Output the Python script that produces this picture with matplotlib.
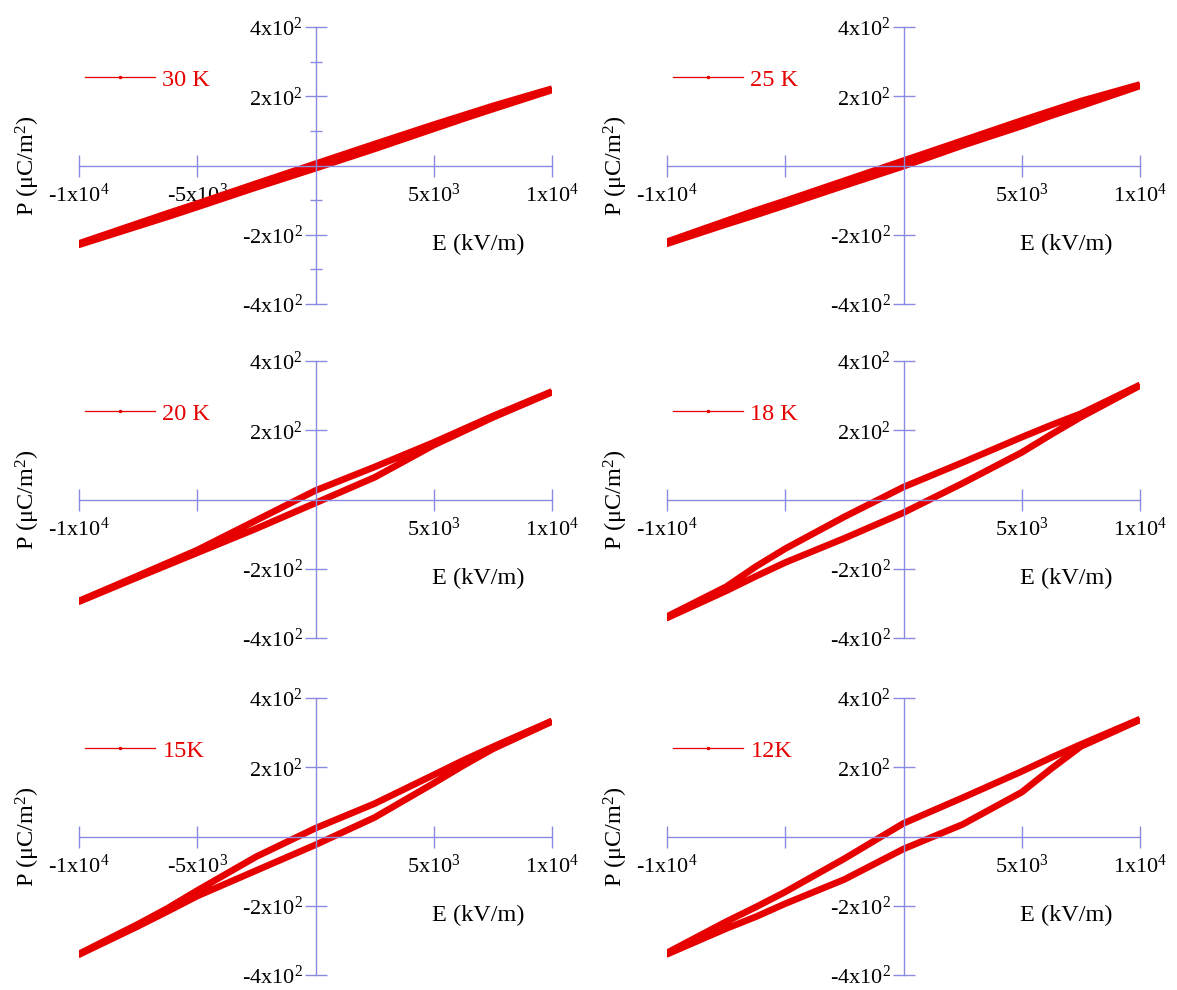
import matplotlib.pyplot as plt
from matplotlib.lines import Line2D

plt.rcParams['font.family'] = ['Liberation Serif', 'DejaVu Serif']
plt.rcParams['mathtext.fontset'] = 'custom'
plt.rcParams['mathtext.rm'] = 'Liberation Serif'
plt.rcParams['mathtext.it'] = 'Liberation Serif:italic'

# field points, kV/m
E = [-1e4, -7.5e3, -6.25e3, -5e3, -2.5e3, 0, 2.5e3, 5e3, 6.25e3, 7.5e3, 1e4]

temps = ['30 K', '25 K', '20 K', '18 K', '15K', '12K']

# upper branch (field going down) and lower branch (field going up), uC/m^2
P_up_30 = [-225, -167, -138, -110, -52, 5, 62, 118, 145, 172, 222]
P_dn_30 = [-229, -175, -148, -120, -63, -8, 48, 106, 135, 163, 218]
P_up_25 = [-220, -160, -130, -102, -44, 14, 72, 130, 158, 186, 234]
P_dn_25 = [-226, -170, -143, -115, -58, -2, 58, 114, 144, 172, 230]
P_up_20 = [-293, -220, -183, -146, -60, 26, 94, 165, 203, 241, 312]
P_dn_20 = [-295, -224, -189, -154, -84, -10, 64, 157, 197, 237, 310]
P_up_18 = [-338, -252, -194, -142, -50, 36, 107, 180, 215, 248, 331]
P_dn_18 = [-342, -264, -222, -182, -112, -38, 47, 136, 188, 238, 329]
P_up_15 = [-339, -253, -207, -156, -58, 24, 95, 178, 220, 259, 334]
P_dn_15 = [-341, -259, -216, -172, -98, -24, 55, 154, 205, 253, 332]
P_up_12 = [-336, -246, -204, -160, -64, 38, 112, 188, 228, 266, 339]
P_dn_12 = [-340, -266, -232, -194, -124, -36, 35, 128, 196, 260, 337]

ups = [P_up_30, P_up_25, P_up_20, P_up_18, P_up_15, P_up_12]
dns = [P_dn_30, P_dn_25, P_dn_20, P_dn_18, P_dn_15, P_dn_12]

x_ticks = [-1e4, -5e3, 5e3, 1e4]
x_labels_full = ['-1x10$^4$', '-5x10$^3$', '5x10$^3$', '1x10$^4$']
x_labels_short = ['-1x10$^4$', '', '5x10$^3$', '1x10$^4$']
y_ticks = [-400, -200, 200, 400]
y_labels = ['-4x10$^2$', '-2x10$^2$', '2x10$^2$', '4x10$^2$']

red = '#e60000'
axc = '#8a8ae0'

fig = plt.figure(figsize=(11.77, 9.9), dpi=100)
lefts = [79, 667]
tops = [27, 361, 698]
W, H = 1177, 990

for i in range(6):
    r, c = i // 2, i % 2
    ax = fig.add_axes([lefts[c] / W, 1 - (tops[r] + 277) / H, 473 / W, 277 / H])
    up, dn = ups[i], dns[i]
    ax.plot(E[::-1] + E, up[::-1] + dn, color=red, lw=4.8,
            solid_joinstyle='round', solid_capstyle='butt')
    ax.set_xlim(-1e4, 1e4)
    ax.set_ylim(-400, 400)
    for s in ['top', 'right']:
        ax.spines[s].set_visible(False)
    for s in ['left', 'bottom']:
        ax.spines[s].set_position('zero')
        ax.spines[s].set_color(axc)
        ax.spines[s].set_linewidth(1.0)
    ax.set_xticks(x_ticks)
    ax.set_xticklabels(x_labels_full if i in (0, 4) else x_labels_short)
    ax.set_yticks(y_ticks)
    ax.set_yticklabels(y_labels)
    if i == 0:
        ax.set_yticks([-300, -100, 100, 300], minor=True)
    ax.tick_params(axis='both', which='major', direction='inout', length=16,
                   width=1.0, color=axc, labelsize=16)
    ax.tick_params(axis='x', which='major', pad=5)
    ax.tick_params(axis='y', which='major', pad=1)
    ax.tick_params(axis='y', which='minor', direction='inout', length=8,
                   width=1.0, color=axc)
    ax.patch.set_alpha(0)

    ax.text(-0.108, 0.5, 'P (\u03bcC/m$^2$)', transform=ax.transAxes,
            rotation=90, ha='center', va='center', fontsize=17.5)
    ax.text(0.845, 0.215, 'E (kV/m)', transform=ax.transAxes,
            ha='center', va='center', fontsize=17.5)

    handle = Line2D([], [], color=red, lw=0.9, marker='.', ms=3)
    ax.legend([handle], [temps[i]], loc='center left', bbox_to_anchor=(0.012, 0.81),
              frameon=False, fontsize=17.5, handlelength=2.9, handletextpad=0.3,
              borderpad=0, borderaxespad=0, labelcolor=red, numpoints=1)

fig.savefig('out.png', dpi=100)
